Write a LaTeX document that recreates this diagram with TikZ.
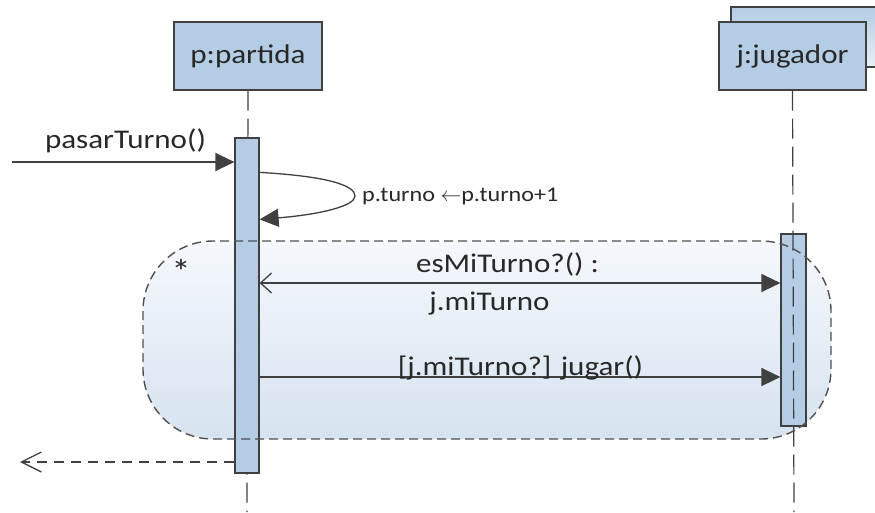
\documentclass[tikz,border=0pt]{standalone}
\usepackage{fontspec}
\setmainfont[FakeStretch=1.15]{Carlito}
\usetikzlibrary{arrows.meta,calc}
\definecolor{boxblue}{RGB}{180,204,228}
\definecolor{boxlight}{RGB}{232,239,247}
\definecolor{linegray}{RGB}{64,64,64}
\definecolor{txtgray}{RGB}{40,40,40}
\definecolor{loopTop}{RGB}{245,248,252}
\definecolor{loopBot}{RGB}{214,227,240}
\definecolor{loopline}{RGB}{80,80,80}
\begin{document}
\begin{tikzpicture}[x=1pt,y=-1pt,
  lifebox/.style={draw=linegray, line width=1.3pt, fill=boxblue, minimum width=148pt, minimum height=68pt, inner sep=0pt, font=\fontsize{27}{30}\selectfont, text=txtgray},
  actbox/.style={draw=linegray, line width=1.2pt, fill=boxblue, inner sep=0pt},
  lifeline/.style={draw=linegray, line width=1.2pt, dash pattern=on 20pt off 8pt},
  msgline/.style={draw=linegray, line width=1.3pt},
  filledtip/.style={-{Triangle[length=19pt,width=18pt]}},
  lbl/.style={font=\fontsize{27}{30}\selectfont, text=txtgray, inner sep=0pt, anchor=base},
  smalllbl/.style={font=\fontsize{21}{24}\selectfont, text=txtgray, inner sep=0pt, anchor=base west},
  loopfill/.style={draw=none, top color=loopTop, bottom color=loopBot, minimum width=688pt, minimum height=198pt, rounded corners=70pt, inner sep=0pt},
  loopborder/.style={draw=loopline, line width=1.4pt, dash pattern=on 9pt off 5pt, minimum width=688pt, minimum height=198pt, rounded corners=70pt, inner sep=0pt}
]
\useasboundingbox (0,0) rectangle (875,512);
\fill[white] (0,0) rectangle (875,512);

% back box of the multi-object j
\begin{scope}
  \clip (0,0) rectangle (875,512);
  \node[draw=linegray, line width=1.3pt, top color=boxblue, bottom color=boxlight, minimum width=160pt, minimum height=60pt, inner sep=0pt] (jback) at (811,37) {};
\end{scope}

% lifeline heads
\node[lifebox] (p) at (248,56) {p:partida};
\node[lifebox, minimum width=147pt] (j) at (792.5,56) {j:jugador};

% combined fragment fill
\node[loopfill] (loopbg) at (487,340) {};

% p lifeline
\coordinate (pend) at (247,512);
\coordinate (jend) at (794,512);
\draw[lifeline] (p.south) -- (pend);

% activations
\node[actbox, minimum width=24pt, minimum height=335pt] (pact) at (247,305.5) {};
\node[actbox, minimum width=25pt, minimum height=192pt] (jact) at (793.5,330) {};

% combined fragment border
\node[loopborder] (loop) at (487,340) {};
\node[font=\fontsize{34}{36}\selectfont, text=txtgray, inner sep=0pt, anchor=base] (star) at (181,283) {*};

% j lifeline (over activation)
\draw[lifeline] (j.south) -- (jend);

% pasarTurno
\coordinate (src) at (12,162);
\draw[msgline, filledtip] (src) -- (src -| pact.west);
\node[lbl] (lpasar) at (125.5,148) {pasarTurno()};

% self message
\coordinate (selfturn) at (355,196);
\draw[msgline, filledtip] ([yshift=-35pt]pact.north east) .. controls +(71,4) and +(0,-10) .. (selfturn) .. controls +(0,10) and +(61,-5) .. ([yshift=-82pt]pact.north east);
\node[smalllbl] (lself) at (362,201) {p.turno $\leftarrow$p.turno+1};

% esMiTurno
\coordinate (m1) at (520,283);
\draw[msgline, {Straight Barb[length=11pt,width=20pt]}-{Triangle[length=19pt,width=18pt]}] (pact.east |- m1) -- (jact.west |- m1);
\node[lbl] (lesmi) at (507.5,272) {esMiTurno?() :};
\node[lbl] (lmi) at (489.5,310) {j.miTurno};

% jugar
\coordinate (m2) at (520,377);
\draw[msgline, filledtip] (pact.east |- m2) -- (jact.west |- m2);
\node[lbl] (ljugar) at (520.5,375) {[j.miTurno?] jugar()};

% return
\coordinate (ret) at (20,462);
\draw[msgline, dash pattern=on 10pt off 7pt, -{Straight Barb[length=20pt,width=20pt]}] (pact.west |- ret) -- (ret);
\end{tikzpicture}
\end{document}
